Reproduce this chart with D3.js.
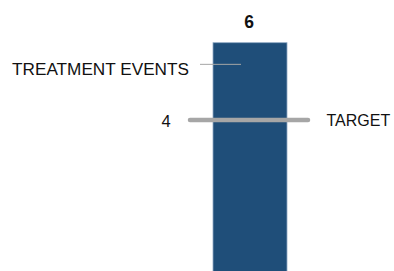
<!DOCTYPE html>
<html lang="en">
<head>
<meta charset="UTF-8">
<script src="https://cdn.jsdelivr.net/npm/d3@7"></script>
<style>
  body { margin: 0; background: #fff; }
  text { font-family: "Liberation Sans", Arial, sans-serif; fill: #111; }
</style>
</head>
<body>
<div id="viz"></div>
<script>
const categories = ["Treatment events"]
const values = [6]
const targets = [4]
const seriesLabel = "TREATMENT EVENTS"
const targetLabel = "TARGET"

const width = 394
const height = 271

const svg = d3.select("#viz")
    .append("svg")
    .attr("width", width)
    .attr("height", height)

const xScale = d3.scaleBand()
    .domain(categories)
    .range([213, 287])

const yScale = d3.scaleLinear()
    .domain([0, 6])
    .range([274.7, 42.7])

// bar
svg.selectAll(".bar")
    .data(values)
    .enter()
    .append("rect")
    .attr("x", (d, i) => xScale(categories[i]))
    .attr("y", d => yScale(d))
    .attr("width", xScale.bandwidth())
    .attr("height", d => yScale(0) - yScale(d))
    .attr("fill", "#1f4e79")
    .attr("stroke", "#8fa9c4")
    .attr("stroke-width", 0.8)

// value label on top
svg.selectAll(".val")
    .data(values)
    .enter()
    .append("text")
    .attr("x", (d, i) => xScale(categories[i]) + xScale.bandwidth() / 2 - 1)
    .attr("y", d => yScale(d) - 15)
    .attr("text-anchor", "middle")
    .attr("font-size", 17.5)
    .attr("font-weight", "bold")
    .text(d => d)

// target line
svg.selectAll(".target")
    .data(targets)
    .enter()
    .append("line")
    .attr("x1", (d, i) => xScale(categories[i]) - 23)
    .attr("x2", (d, i) => xScale(categories[i]) + xScale.bandwidth() + 21)
    .attr("y1", d => yScale(d))
    .attr("y2", d => yScale(d))
    .attr("stroke", "#a6a6a6")
    .attr("stroke-width", 4.5)
    .attr("stroke-linecap", "round")

svg.selectAll(".tval")
    .data(targets)
    .enter()
    .append("text")
    .attr("x", (d, i) => xScale(categories[i]) - 47)
    .attr("y", d => yScale(d) + 6.5)
    .attr("text-anchor", "middle")
    .attr("font-size", 16.5)
    .text(d => d)

svg.append("text")
    .attr("x", 326.5)
    .attr("y", yScale(targets[0]) + 6)
    .attr("font-size", 16)
    .text(targetLabel)

// series label with leader line
const labelY = yScale(values[0] - 0.56)
svg.append("line")
    .attr("x1", 200)
    .attr("x2", xScale(categories[0]) + 28)
    .attr("y1", labelY)
    .attr("y2", labelY)
    .attr("stroke", "#a6a6a6")
    .attr("stroke-width", 1)

svg.append("text")
    .attr("x", 12)
    .attr("y", labelY + 10.8)
    .attr("font-size", 17.2)
    .text(seriesLabel)
</script>
</body>
</html>
